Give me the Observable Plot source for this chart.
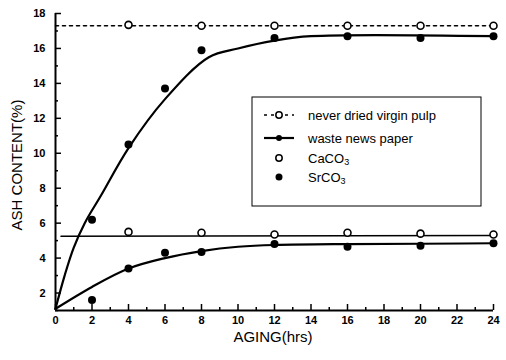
<!DOCTYPE html>
<html><head><meta charset="utf-8">
<script src="https://cdn.jsdelivr.net/npm/d3@7"></script>
<script src="https://cdn.jsdelivr.net/npm/@observablehq/plot@0.6"></script>
<style>body{margin:0;background:#fff;font-family:"Liberation Sans",Arial,sans-serif}</style>
</head><body><div id="chart"></div>
<script>
// measured points
const pointHours = [4, 8, 12, 16, 20, 24];
const virginAsh = [17.35, 17.3, 17.3, 17.3, 17.3, 17.3];
const caco3Ash = [5.5, 5.45, 5.35, 5.45, 5.4, 5.35];
const srHours = [2, 4, 6, 8, 12, 16, 20, 24];
const wasteSrAsh = [6.2, 10.5, 13.7, 15.9, 16.6, 16.7, 16.6, 16.7];
const lowerSrAsh = [1.6, 3.4, 4.3, 4.35, 4.8, 4.65, 4.7, 4.85];
// fitted lines
const virginLineHours = [0, 24];
const virginLineAsh = [17.3, 17.3];
const caLineHours = [0.3, 24];
const caLineAsh = [5.25, 5.3];
const wasteCurveHours = [0, 0.5, 1.0, 1.6, 2.5, 4, 6, 8.4, 10, 12, 14, 24];
const wasteCurveAsh = [1.1, 3.0, 4.6, 6.0, 7.6, 10.3, 13.1, 15.5, 16.0, 16.45, 16.7, 16.7];
const lowerCurveHours = [0, 2, 4, 6, 8, 10, 12, 16, 20, 24];
const lowerCurveAsh = [1.1, 2.35, 3.4, 4.0, 4.4, 4.65, 4.75, 4.8, 4.82, 4.85];
const xMajor = [0, 2, 4, 6, 8, 10, 12, 14, 16, 18, 20, 22, 24];
const xMinor = [1, 3, 5, 7, 9, 11, 13, 15, 17, 19, 21, 23];
const yMajor = [2, 4, 6, 8, 10, 12, 14, 16, 18];
const yMinor = [1, 3, 5, 7, 9, 11, 13, 15, 17];
const legendLabels = ["never dried virgin pulp", "waste news paper", "CaCO", "SrCO"];

const zip = (xs, ys) => xs.map((x, i) => ({x, y: ys[i]}));
const W = 506, H = 360, ML = 55, MR = 13, MT = 13, MB = 50;
const FW = W - ML - MR, FH = H - MT - MB;

const plot = Plot.plot({
  width: W, height: H,
  marginLeft: ML, marginRight: MR, marginTop: MT, marginBottom: MB,
  style: {fontFamily: '"Liberation Sans", Arial, sans-serif', fontSize: "11px", color: "#000", background: "#fff"},
  x: {domain: [0, 24]},
  y: {domain: [1, 18]},
  marks: [
    Plot.ruleX([0], {stroke: "#000", strokeWidth: 2}),
    Plot.ruleY([1], {stroke: "#000", strokeWidth: 2}),
    Plot.axisX({ticks: xMajor, tickSize: 0, tickPadding: 6, label: null, fontWeight: "bold", fontSize: 11}),
    Plot.axisY({ticks: yMajor, tickSize: 0, tickPadding: 10, label: null, fontWeight: "bold", fontSize: 11}),
    Plot.ruleX(xMajor, {x: d => d, stroke: "#000", strokeWidth: 1.5, insetTop: FH - 6}),
    Plot.ruleX(xMinor, {x: d => d, stroke: "#000", strokeWidth: 1.5, insetTop: FH - 3}),
    Plot.ruleY(yMajor, {y: d => d, stroke: "#000", strokeWidth: 1.5, insetRight: FW - 6}),
    Plot.ruleY(yMinor, {y: d => d, stroke: "#000", strokeWidth: 1.5, insetRight: FW - 3}),
    Plot.line(zip(virginLineHours, virginLineAsh), {x: "x", y: "y", stroke: "#000", strokeWidth: 1.6, strokeDasharray: "3,4"}),
    Plot.line(zip(caLineHours, caLineAsh), {x: "x", y: "y", stroke: "#000", strokeWidth: 1.5}),
    Plot.line(zip(wasteCurveHours, wasteCurveAsh), {x: "x", y: "y", stroke: "#000", strokeWidth: 2.2, curve: "catmull-rom"}),
    Plot.line(zip(lowerCurveHours, lowerCurveAsh), {x: "x", y: "y", stroke: "#000", strokeWidth: 2.2, curve: "monotone-x"}),
    Plot.dot(zip(pointHours, virginAsh), {x: "x", y: "y", r: 3.5, fill: "#fff", stroke: "#000", strokeWidth: 1.6}),
    Plot.dot(zip(pointHours, caco3Ash), {x: "x", y: "y", r: 3.5, fill: "#fff", stroke: "#000", strokeWidth: 1.6}),
    Plot.dot(zip(srHours, wasteSrAsh), {x: "x", y: "y", r: 4, fill: "#000"}),
    Plot.dot(zip(srHours, lowerSrAsh), {x: "x", y: "y", r: 4, fill: "#000"})
  ]
});
document.getElementById("chart").appendChild(plot);

const svg = d3.select(plot);
// axis titles
svg.append("text").attr("x", 273).attr("y", 342).attr("text-anchor", "middle")
  .attr("font-size", 15).attr("fill", "#000").text("AGING(hrs)");
svg.append("text").attr("transform", "translate(22,165) rotate(-90)").attr("text-anchor", "middle")
  .attr("font-size", 15).attr("fill", "#000").text("ASH CONTENT(%)");

// legend
const lg = svg.append("g");
lg.append("rect").attr("x", 252).attr("y", 97).attr("width", 229).attr("height", 109)
  .attr("fill", "#fff").attr("stroke", "#000").attr("stroke-width", 1);
const rows = [115, 138, 158, 177];
lg.append("line").attr("x1", 264).attr("x2", 294).attr("y1", rows[0]).attr("y2", rows[0])
  .attr("stroke", "#000").attr("stroke-width", 1.6).attr("stroke-dasharray", "3,4");
lg.append("circle").attr("cx", 279).attr("cy", rows[0]).attr("r", 3.2).attr("fill", "#fff").attr("stroke", "#000").attr("stroke-width", 1.5);
lg.append("line").attr("x1", 264).attr("x2", 294).attr("y1", rows[1]).attr("y2", rows[1])
  .attr("stroke", "#000").attr("stroke-width", 2.2);
lg.append("circle").attr("cx", 279).attr("cy", rows[1]).attr("r", 3).attr("fill", "#000");
lg.append("circle").attr("cx", 279).attr("cy", rows[2]).attr("r", 3.2).attr("fill", "#fff").attr("stroke", "#000").attr("stroke-width", 1.5);
lg.append("circle").attr("cx", 279).attr("cy", rows[3]).attr("r", 3.5).attr("fill", "#000");
legendLabels.forEach((t, i) => {
  const tx = lg.append("text").attr("x", 308).attr("y", rows[i]).attr("dy", "0.35em")
    .attr("text-anchor", "start").attr("font-size", 13).attr("fill", "#000").text(t);
  if (i >= 2) tx.append("tspan").attr("font-size", 9).attr("dy", "0.3em").text("3");
});
</script>
</body></html>
